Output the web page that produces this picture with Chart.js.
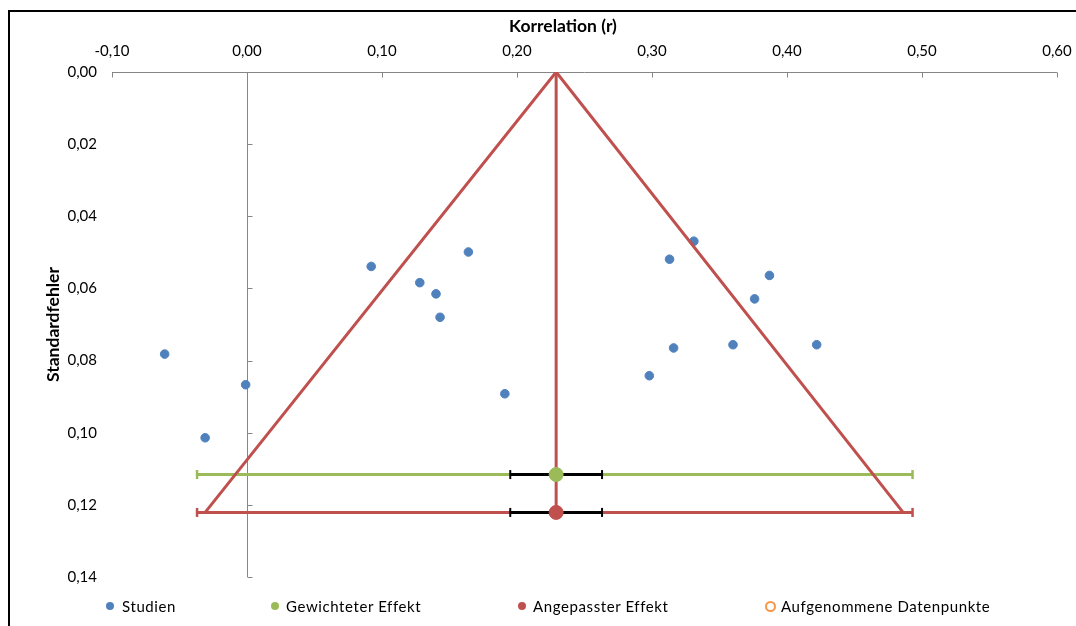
<!DOCTYPE html>
<html>
<head>
<meta charset="utf-8">
<script src="https://cdn.jsdelivr.net/npm/chart.js@4.4.0/dist/chart.umd.min.js"></script>
<style>
    body { margin: 0; background: #fff; font-family: Lato, "Noto Sans", sans-serif; }
    #wrap { position: relative; width: 1076px; height: 626px; overflow: hidden; }
    #frame { position: absolute; left: 8px; top: 10px; width: 1200px; height: 800px; border: 2px solid #000; box-sizing: border-box; }
    canvas { position: absolute; left: 0; top: 0; }
    .item { position: absolute; top: 597px; font-size: 15px; letter-spacing: 0.6px; color: #000; white-space: nowrap; line-height: 19px; }
    .mark { position: absolute; top: 5px; width: 8px; height: 8px; border-radius: 50%; box-sizing: border-box; }
</style>
</head>
<body>
<div id="wrap">
    <div id="frame"></div>
    <canvas id="funnelChart" width="1076" height="626"></canvas>
    <div class="item" style="left:106px"><span class="mark" style="background:#4F81BD"></span><span style="margin-left:16px">Studien</span></div>
    <div class="item" style="left:271px"><span class="mark" style="background:#9BBB59"></span><span style="margin-left:15px">Gewichteter Effekt</span></div>
    <div class="item" style="left:518px"><span class="mark" style="background:#C0504D"></span><span style="margin-left:15px">Angepasster Effekt</span></div>
    <div class="item" style="left:765px"><span class="mark" style="border:2.5px solid #F79646;width:11px;height:11px;top:4px"></span><span style="margin-left:16px">Aufgenommene Datenpunkte</span></div>
</div>
<script>
// --- Data ---
const studyR  = [-0.061, -0.031, -0.001, 0.092, 0.128, 0.140, 0.143, 0.164, 0.191, 0.298, 0.313, 0.316, 0.331, 0.360, 0.376, 0.387, 0.422];
const studySE = [0.0782, 0.1014, 0.0867, 0.0539, 0.0584, 0.0615, 0.0680, 0.0499, 0.0892, 0.0842, 0.0519, 0.0765, 0.0469, 0.0756, 0.0629, 0.0564, 0.0756];

const pooledR = 0.229;               // weighted / adjusted effect
const funnelR  = [-0.031, 0.229, 0.486];
const funnelSE = [0.1221, 0, 0.1221];

const weightedSE = 0.1116;           // row of the green effect
const adjustedSE = 0.1221;           // row of the red effect
const rangeR = [-0.037, 0.493];      // long horizontal bars
const ciR    = [0.195, 0.263];       // black confidence bars

const xTickLabels = ['-0,10', '0,00', '0,10', '0,20', '0,30', '0,40', '0,50', '0,60'];
const yTickLabels = ['0,00', '0,02', '0,04', '0,06', '0,08', '0,10', '0,12', '0,14'];

const BLUE = '#4F81BD', GREEN = '#9BBB59', RED = '#C0504D', AXIS = '#868686';
const tickFont = { family: 'Lato', size: 15 };

function pts(xs, ys) {
    return xs.map((x, i) => ({ x: x, y: Array.isArray(ys) ? ys[i] : ys }));
}

function fmtTick(labels, min, step) {
    return function(value) {
        const i = Math.round((value - min) / step);
        return labels[i] !== undefined ? labels[i] : '';
    };
}

// axis lines with inside tick marks + axis titles (Excel style)
const axisDecor = {
    id: 'axisDecor',
    beforeDatasetsDraw(chart) {
        const { ctx, chartArea, scales: { x, y } } = chart;
        ctx.save();
        ctx.strokeStyle = AXIS;
        ctx.lineWidth = 1;
        ctx.beginPath();
        const top = Math.round(chartArea.top) + 0.5;
        ctx.moveTo(chartArea.left, top);
        ctx.lineTo(chartArea.right, top);
        x.ticks.forEach(t => {
            const px = Math.round(x.getPixelForValue(t.value)) + 0.5;
            ctx.moveTo(px, top);
            ctx.lineTo(px, top + 5);
        });
        const x0 = Math.round(x.getPixelForValue(0)) + 0.5;
        ctx.moveTo(x0, chartArea.top);
        ctx.lineTo(x0, chartArea.bottom);
        y.ticks.forEach(t => {
            const py = Math.round(y.getPixelForValue(t.value)) + 0.5;
            ctx.moveTo(x0, py);
            ctx.lineTo(x0 + 5, py);
        });
        ctx.stroke();
        ctx.restore();
    },
    afterDraw(chart) {
        const { ctx, chartArea } = chart;
        ctx.save();
        ctx.fillStyle = '#000';
        ctx.font = 'bold 17.5px Lato';
        ctx.textAlign = 'center';
        ctx.textBaseline = 'middle';
        ctx.fillText('Korrelation (r)', 563, 26);
        ctx.translate(53, (chartArea.top + chartArea.bottom) / 2);
        ctx.rotate(-Math.PI / 2);
        ctx.fillText('Standardfehler', 0, 0);
        ctx.restore();
    }
};

document.addEventListener('DOMContentLoaded', function() {
    const ctx = document.getElementById('funnelChart');
    new Chart(ctx, {
        type: 'scatter',
        data: {
            datasets: [
                {   // green / red effect dots on top
                    label: 'Gewichteter Effekt',
                    data: pts([pooledR], weightedSE),
                    backgroundColor: GREEN, borderColor: GREEN,
                    pointRadius: 7, order: 0
                },
                {
                    label: 'Angepasster Effekt',
                    data: pts([pooledR], adjustedSE),
                    backgroundColor: RED, borderColor: RED,
                    pointRadius: 7, order: 0
                },
                {   // black confidence bars
                    label: 'KI gewichtet',
                    data: pts(ciR, weightedSE),
                    showLine: true, borderColor: '#000', borderWidth: 3,
                    pointStyle: 'line', rotation: 90, pointRadius: 4.5,
                    pointBorderColor: '#000', pointBorderWidth: 2, order: 1
                },
                {
                    label: 'KI angepasst',
                    data: pts(ciR, adjustedSE),
                    showLine: true, borderColor: '#000', borderWidth: 3,
                    pointStyle: 'line', rotation: 90, pointRadius: 4.5,
                    pointBorderColor: '#000', pointBorderWidth: 2, order: 1
                },
                {   // funnel
                    label: 'Trichter',
                    data: pts(funnelR, funnelSE),
                    showLine: true, borderColor: RED, borderWidth: 3,
                    pointRadius: 0, order: 2
                },
                {
                    label: 'Mittellinie',
                    data: pts([pooledR, pooledR], [0, adjustedSE]),
                    showLine: true, borderColor: RED, borderWidth: 3,
                    pointRadius: 0, order: 2
                },
                {   // long horizontal bars
                    label: 'Bereich gewichtet',
                    data: pts(rangeR, weightedSE),
                    showLine: true, borderColor: GREEN, borderWidth: 3,
                    pointStyle: 'line', rotation: 90, pointRadius: 4.5,
                    pointBorderColor: GREEN, pointBorderWidth: 2.5, order: 3
                },
                {
                    label: 'Bereich angepasst',
                    data: pts(rangeR, adjustedSE),
                    showLine: true, borderColor: RED, borderWidth: 3,
                    pointStyle: 'line', rotation: 90, pointRadius: 4.5,
                    pointBorderColor: RED, pointBorderWidth: 2.5, order: 3
                },
                {
                    label: 'Studien',
                    data: pts(studyR, studySE),
                    backgroundColor: BLUE, borderColor: BLUE,
                    pointRadius: 4.3, order: 4
                },
                {
                    label: 'Aufgenommene Datenpunkte',
                    data: [],
                    borderColor: '#F79646', backgroundColor: '#fff'
                }
            ]
        },
        options: {
            responsive: false,
            animation: false,
            layout: { padding: { left: 0, right: 19, top: 0, bottom: 49 } },
            plugins: {
                legend: { display: false },
                tooltip: { enabled: false }
            },
            scales: {
                x: {
                    type: 'linear', position: 'top',
                    min: -0.1, max: 0.6,
                    ticks: { stepSize: 0.1, padding: 12, color: '#000', font: tickFont,
                             callback: fmtTick(xTickLabels, -0.1, 0.1) },
                    grid: { display: false, drawTicks: false },
                    border: { display: false },
                    afterFit: s => { s.height = 72; s.paddingLeft = 0; s.paddingRight = 0; }
                },
                y: {
                    type: 'linear', reverse: true,
                    min: 0, max: 0.14,
                    ticks: { stepSize: 0.02, padding: 15, color: '#000', font: tickFont,
                             callback: fmtTick(yTickLabels, 0, 0.02) },
                    grid: { display: false, drawTicks: false },
                    border: { display: false },
                    afterFit: s => { s.width = 112; s.paddingTop = 0; s.paddingBottom = 0; }
                }
            }
        },
        plugins: [axisDecor]
    });
});
</script>
</body>
</html>
